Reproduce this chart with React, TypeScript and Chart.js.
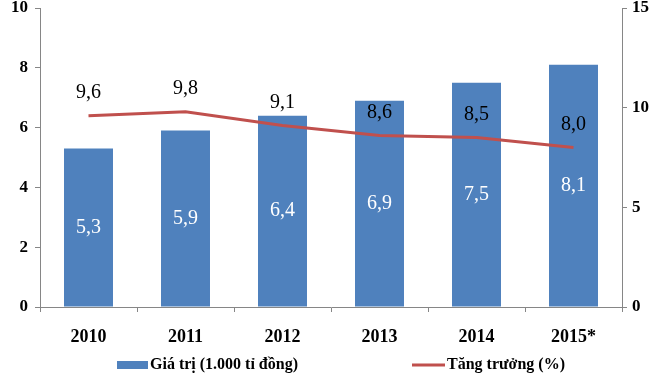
import React, { useEffect, useRef } from "react";
import { Chart, registerables } from "chart.js";

Chart.register(...registerables);

const categories = ["2010", "2011", "2012", "2013", "2014", "2015*"];
const valueSeries = [5.3, 5.9, 6.4, 6.9, 7.5, 8.1];
const growthSeries = [9.6, 9.8, 9.1, 8.6, 8.5, 8.0];
const valueLabel = "Giá trị (1.000 tỉ đồng)";
const growthLabel = "Tăng trưởng (%)";

const BLUE = "#4F81BD";
const RED = "#C0504D";
const AXIS = "#868686";
const SERIF = "Liberation Serif";

const fmt = (v: number) => v.toFixed(1).replace(".", ",");

const labelPlugin = {
  id: "valueLabels",
  afterDatasetsDraw(chart: any) {
    const ctx = chart.ctx;
    ctx.save();
    ctx.textAlign = "center";
    ctx.textBaseline = "middle";
    ctx.font = `20px "${SERIF}"`;
    const barMeta = chart.getDatasetMeta(0);
    barMeta.data.forEach((el: any, i: number) => {
      ctx.fillStyle = "#FFFFFF";
      ctx.fillText(fmt(valueSeries[i]), el.x, (el.y + el.base) / 2);
    });
    const lineMeta = chart.getDatasetMeta(1);
    lineMeta.data.forEach((el: any, i: number) => {
      ctx.fillStyle = "#000000";
      ctx.fillText(fmt(growthSeries[i]), el.x, el.y - 23);
    });
    ctx.restore();
  },
  afterDraw(chart: any) {
    const ctx = chart.ctx;
    ctx.save();
    const ly = 365;
    ctx.font = `bold 16px "${SERIF}"`;
    ctx.textBaseline = "middle";
    ctx.textAlign = "left";
    ctx.fillStyle = BLUE;
    ctx.fillRect(117, ly - 4, 31, 8);
    ctx.fillStyle = "#000";
    ctx.fillText(chart.data.datasets[0].label, 150, ly);
    ctx.strokeStyle = RED;
    ctx.lineWidth = 3;
    ctx.beginPath();
    ctx.moveTo(412, ly);
    ctx.lineTo(445, ly);
    ctx.stroke();
    ctx.fillText(chart.data.datasets[1].label, 447, ly);
    ctx.restore();
  },
};

const fitY = (w: number) => (s: any) => {
  s.width = w;
  s.paddingTop = 0;
  s.paddingBottom = 0;
};

export default function App() {
  const ref = useRef<HTMLCanvasElement | null>(null);
  useEffect(() => {
    if (!ref.current) return;
    const chart = new Chart(ref.current, {
      type: "bar",
      data: {
        labels: categories,
        datasets: [
          {
            type: "bar",
            label: valueLabel,
            data: valueSeries,
            backgroundColor: BLUE,
            yAxisID: "y",
            categoryPercentage: 1,
            barPercentage: 0.505,
            order: 1,
          },
          {
            type: "line",
            label: growthLabel,
            data: growthSeries,
            borderColor: RED,
            borderWidth: 3,
            pointRadius: 0,
            tension: 0,
            yAxisID: "y1",
            order: 0,
          } as any,
        ],
      },
      options: {
        animation: false,
        responsive: true,
        maintainAspectRatio: false,
        layout: { padding: { top: 8, bottom: 30, left: 0, right: 0 } },
        plugins: { legend: { display: false }, tooltip: { enabled: false } },
        scales: {
          x: {
            offset: true,
            grid: { offset: true, drawOnChartArea: false, drawTicks: true, tickLength: 5, color: AXIS },
            border: { color: AXIS },
            ticks: { color: "#000", font: { family: SERIF, size: 18, weight: 700 }, padding: 15 },
            afterFit: (s: any) => { s.height = 43; },
          },
          y: {
            position: "left",
            min: 0,
            max: 10,
            grid: { drawOnChartArea: false, drawTicks: true, tickLength: 5, color: AXIS },
            border: { color: AXIS },
            ticks: { stepSize: 2, color: "#000", font: { family: SERIF, size: 17, weight: 700 }, padding: 7 },
            afterFit: fitY(40),
          },
          y1: {
            position: "right",
            min: 0,
            max: 15,
            grid: { drawOnChartArea: false, drawTicks: true, tickLength: 5, color: AXIS },
            border: { color: AXIS },
            ticks: { stepSize: 5, color: "#000", font: { family: SERIF, size: 17, weight: 700 }, padding: 5 },
            afterFit: fitY(43),
          },
        },
      } as any,
      plugins: [labelPlugin],
    });
    return () => chart.destroy();
  }, []);
  return (
    <div style={{ position: "absolute", left: 0, top: 0, width: 665, height: 380, background: "#fff" }}>
      <canvas ref={ref} />
    </div>
  );
}
